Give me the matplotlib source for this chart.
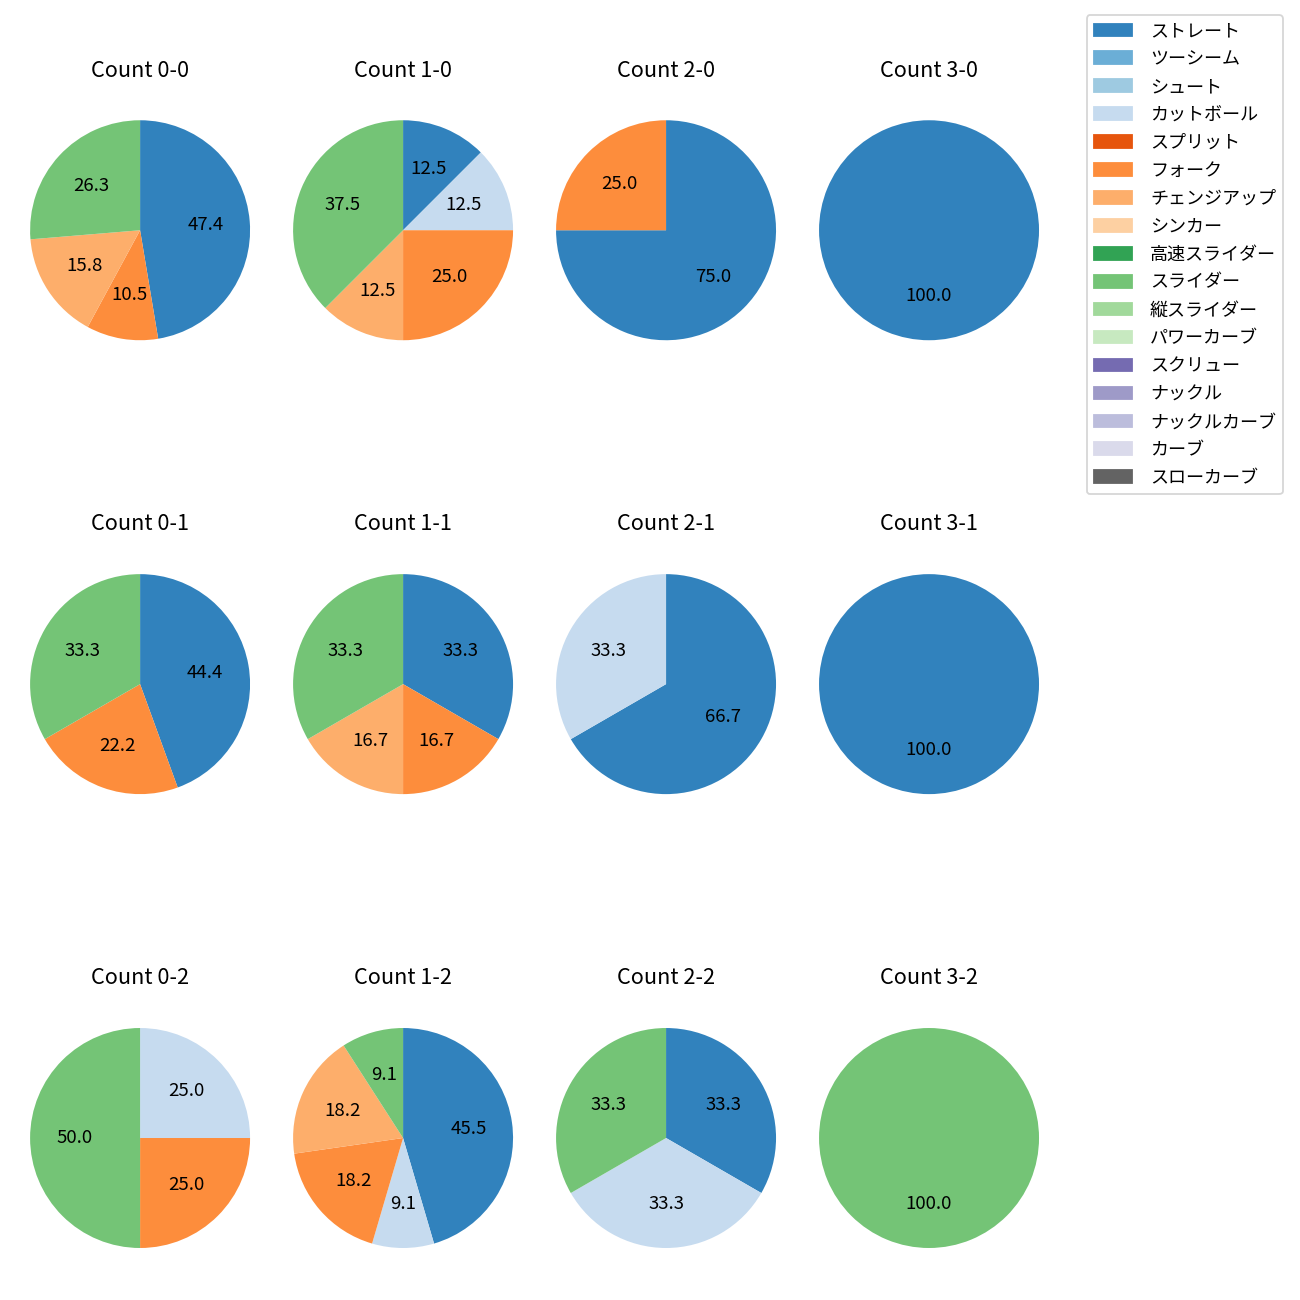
import matplotlib
matplotlib.use('Agg')
import matplotlib.pyplot as plt
import numpy as np

plt.rcParams['font.family'] = ['Noto Sans CJK JP', 'DejaVu Sans']

pitch_types = ['ストレート', 'ツーシーム', 'シュート', 'カットボール', 'スプリット', 'フォーク',
               'チェンジアップ', 'シンカー', '高速スライダー', 'スライダー', '縦スライダー',
               'パワーカーブ', 'スクリュー', 'ナックル', 'ナックルカーブ', 'カーブ', 'スローカーブ']

# pitch counts per ball-strike count, order follows pitch_types
balls = [0, 1, 2, 3]
strikes = [0, 1, 2]
counts = {
    (0, 0): {'ストレート': 9, 'フォーク': 2, 'チェンジアップ': 3, 'スライダー': 5},
    (1, 0): {'ストレート': 1, 'カットボール': 1, 'フォーク': 2, 'チェンジアップ': 1, 'スライダー': 3},
    (2, 0): {'ストレート': 3, 'フォーク': 1},
    (3, 0): {'ストレート': 1},
    (0, 1): {'ストレート': 4, 'フォーク': 2, 'スライダー': 3},
    (1, 1): {'ストレート': 2, 'フォーク': 1, 'チェンジアップ': 1, 'スライダー': 2},
    (2, 1): {'ストレート': 2, 'カットボール': 1},
    (3, 1): {'ストレート': 1},
    (0, 2): {'カットボール': 1, 'フォーク': 1, 'スライダー': 2},
    (1, 2): {'ストレート': 5, 'カットボール': 1, 'フォーク': 2, 'チェンジアップ': 2, 'スライダー': 1},
    (2, 2): {'ストレート': 1, 'カットボール': 1, 'スライダー': 1},
    (3, 2): {'スライダー': 1},
}

cmap = plt.get_cmap('tab20c')
colors = {p: cmap(i) for i, p in enumerate(pitch_types)}

fig, axes = plt.subplots(3, 4, figsize=(10, 10))
plt.subplots_adjust(left=0.002, right=0.8204, top=0.9385, bottom=0.009,
                    wspace=-0.0436, hspace=0.51)

for r, s in enumerate(strikes):
    for c, b in enumerate(balls):
        ax = axes[r, c]
        data = counts[(b, s)]
        names = [p for p in pitch_types if p in data]
        vals = [data[p] for p in names]
        ax.pie(vals, colors=[colors[p] for p in names], autopct='%.1f',
               startangle=90, counterclock=False,
               textprops={'fontsize': 10.3})
        ax.set_title(f'Count {b}-{s}', fontsize=12, pad=9)

handles = [plt.Rectangle((0, 0), 1, 1, color=colors[p]) for p in pitch_types]
fig.legend(handles, pitch_types, loc='upper right', bbox_to_anchor=(0.987, 0.9885),
           borderaxespad=0, fontsize=10, labelspacing=0.55, handletextpad=1.0,
           handlelength=2.1)

plt.savefig('out.png', dpi=130)
